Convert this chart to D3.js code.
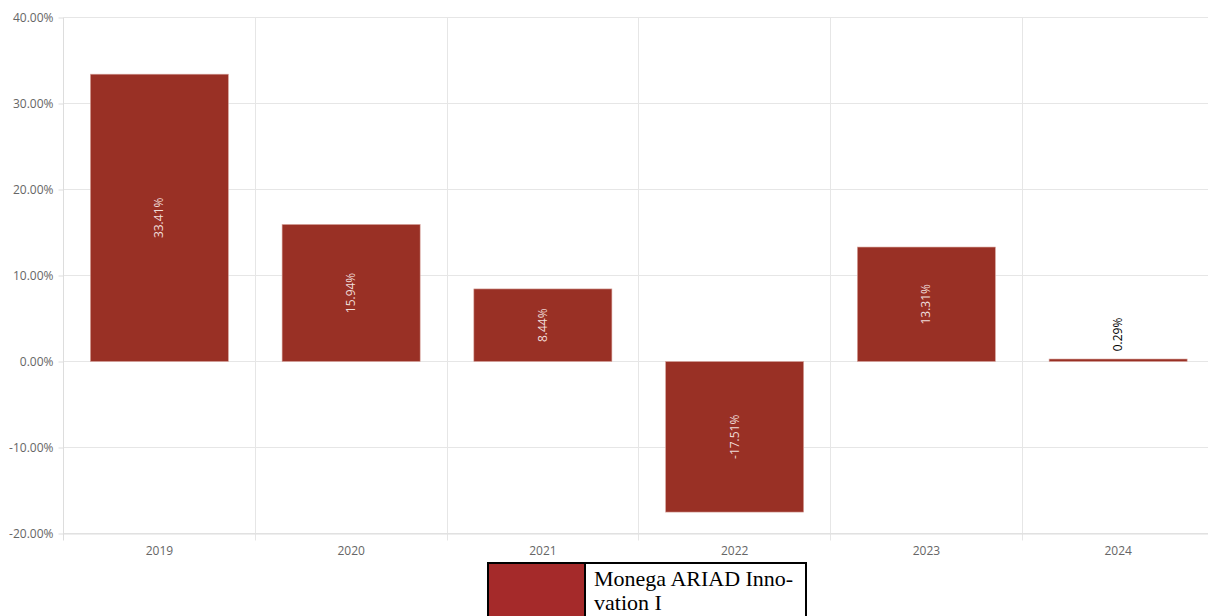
<!DOCTYPE html>
<html>
<head>
<meta charset="utf-8">
<script src="https://cdn.jsdelivr.net/npm/d3@7"></script>
<style>
  body { margin: 0; background: #fff; }
  svg { display: block; }
  .legend { position: absolute; left: 487px; top: 562px; width: 320px; height: 60px;
    border: 2px solid #000; box-sizing: border-box; display: flex; background: #fff; }
  .legend .sw { width: 95px; background: #a52a2a; border-right: 2px solid #000; }
  .legend .lb { font-family: "Liberation Serif", "Times New Roman", serif; font-size: 22px;
    line-height: 24px; padding: 3px 0 0 8px; width: 210px; color: #000; }
</style>
</head>
<body>
<svg width="1208" height="616"></svg>
<div class="legend"><div class="sw"></div><div class="lb">Monega ARIAD Inno-<br>vation I</div></div>
<script>
let years = ["2019", "2020", "2021", "2022", "2023", "2024"];
let returns = [33.41, 15.94, 8.44, -17.51, 13.31, 0.29];
let yTicks = [-20, -10, 0, 10, 20, 30, 40];

let margin = { top: 17.5, right: -6, bottom: 82.5, left: 63.5 },
    width = 1208 - margin.left - margin.right,
    height = 616 - margin.top - margin.bottom;

let svg = d3.select("svg");
let g = svg.append("g").attr("transform", "translate(" + margin.left + "," + margin.top + ")");

let x = d3.scaleBand().domain(years).range([0, width]).paddingInner(0.28).paddingOuter(0.14);
let xb = d3.scaleBand().domain(years).range([0, width]);
let y = d3.scaleLinear().domain([-20, 40]).range([height, 0]);

// horizontal grid
g.append("g").selectAll("line").data(yTicks).enter().append("line")
    .attr("x1", 0).attr("x2", width)
    .attr("y1", d => Math.round(y(d))).attr("y2", d => Math.round(y(d)))
    .attr("stroke", "#e6e6e6").attr("stroke-width", 1);

// vertical grid at band boundaries
g.append("g").selectAll("line").data(years.slice(1)).enter().append("line")
    .attr("x1", d => Math.round(xb(d))).attr("x2", d => Math.round(xb(d)))
    .attr("y1", 0).attr("y2", height + 7)
    .attr("stroke", "#e6e6e6");

// y axis
let yAxis = g.append("g")
    .call(d3.axisLeft(y).tickValues(yTicks).tickSize(5).tickFormat(d => d.toFixed(2) + "%"));
yAxis.select(".domain").attr("stroke", "#ddd").attr("d", "M0,0V" + (height + 7));
yAxis.selectAll(".tick line").attr("stroke", "#ddd");
yAxis.selectAll("text").attr("fill", "#666").attr("font-family", "Open Sans").attr("font-size", 12).attr("x", -10);

// x axis
let xAxis = g.append("g").attr("transform", "translate(0," + height + ")")
    .call(d3.axisBottom(xb).tickSize(0).tickPadding(13));
xAxis.select(".domain").attr("stroke", "#ddd");
xAxis.selectAll("text").attr("fill", "#666").attr("font-family", "Open Sans").attr("font-size", 12);

// bars
g.append("g").selectAll("rect").data(years).enter().append("rect")
    .attr("x", d => x(d))
    .attr("width", x.bandwidth())
    .attr("y", (d, i) => y(Math.max(0, returns[i])))
    .attr("height", (d, i) => Math.abs(y(returns[i]) - y(0)))
    .attr("fill", "#993025")
    .attr("stroke", "#d9a7a0").attr("stroke-width", 0.6);

// value labels
g.append("g").selectAll("text").data(years).enter().append("text")
    .attr("transform", (d, i) => {
        let v = returns[i];
        let cx = x(d) + x.bandwidth() / 2;
        let cy = Math.abs(v) < 3 ? y(0) - 27 : (y(v) + y(0)) / 2;
        return "translate(" + (cx + 4) + "," + cy + ") rotate(-90)";
    })
    .attr("text-anchor", "middle")
    .attr("font-family", "Open Sans").attr("font-size", 12)
    .attr("fill", (d, i) => Math.abs(returns[i]) < 3 ? "#000" : "#f0dcd9")
    .text((d, i) => returns[i].toFixed(2) + "%");
</script>
</body>
</html>
